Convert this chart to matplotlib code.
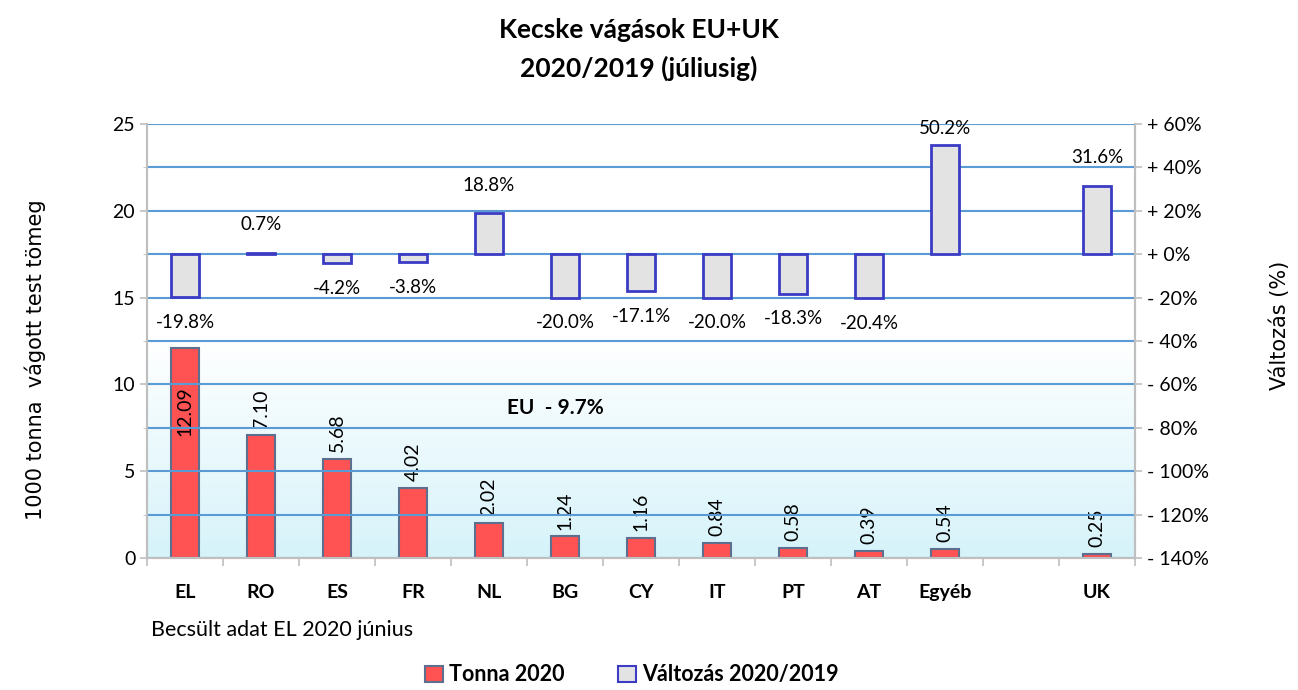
import numpy as np
import matplotlib
matplotlib.use("Agg")
import matplotlib.pyplot as plt
from matplotlib.patches import Patch
from matplotlib.colors import LinearSegmentedColormap

categories = ["EL", "RO", "ES", "FR", "NL", "BG", "CY", "IT", "PT", "AT", "Egyéb", "", "UK"]
tonna_2020 = [12.09, 7.10, 5.68, 4.02, 2.02, 1.24, 1.16, 0.84, 0.58, 0.39, 0.54, np.nan, 0.25]
valtozas = [-19.8, 0.7, -4.2, -3.8, 18.8, -20.0, -17.1, -20.0, -18.3, -20.4, 50.2, np.nan, 31.6]
right_ticks = [-140, -120, -100, -80, -60, -40, -20, 0, 20, 40, 60]
left_ticks = [0, 5, 10, 15, 20, 25]

plt.rcParams['font.family'] = ['Lato', 'DejaVu Sans']

fig = plt.figure(figsize=(12.98, 6.90), dpi=100)
ax = fig.add_axes([0.1133, 0.1913, 0.7611, 0.629])
ax2 = ax.twinx()

x = np.arange(len(categories))
ax.set_xlim(-0.5, len(categories) - 0.5)
ax.set_ylim(0, 25)
ax2.set_ylim(-140, 60)

# background gradient
grad = np.linspace(0, 1, 256).reshape(-1, 1)
cmap = LinearSegmentedColormap.from_list("bg", [(0, "#d6f3fa"), (0.5, "#ffffff"), (1, "#ffffff")])
ax.imshow(grad, aspect="auto", cmap=cmap, origin="lower",
          extent=[-0.5, len(categories) - 0.5, 0, 25], zorder=0)

# gridlines
for t in right_ticks:
    ax2.axhline(t, color="#5b9bd5", lw=1.5, zorder=1)

w = 0.38
ax.bar(x, tonna_2020, width=w, color="#ff5252", edgecolor="#5d6f8f", lw=1.5, zorder=3)
ax2.bar(x, valtozas, width=w, color="#e3e3e3", edgecolor="#3b3bc4", lw=2, zorder=3)

# data labels tonnes
for i, v in enumerate(tonna_2020):
    if np.isnan(v):
        continue
    if v > 10:
        ax.text(x[i], v - 2.2, f"{v:.2f}", rotation=90, ha="center", va="top", fontsize=14, zorder=5)
    else:
        ax.text(x[i], v + 0.4, f"{v:.2f}", rotation=90, ha="center", va="bottom", fontsize=14, zorder=5)

for i, v in enumerate(valtozas):
    if np.isnan(v):
        continue
    if v >= 0:
        ax2.text(x[i], min(v + 13, 58), f"{v:.1f}%", ha="center", va="center", fontsize=13.5, zorder=5)
    else:
        ax2.text(x[i], v - 11.5, f"{v:.1f}%", ha="center", va="center", fontsize=13.5, zorder=5)

ax.text(4.87, 8.64, "EU  - 9.7%", ha="center", va="center", fontsize=15, fontweight="bold", zorder=5)

# axes styling
ax.set_xticks(x)
ax.set_xticklabels(categories, fontweight="bold", fontsize=14)
ax.tick_params(axis="x", length=0, pad=19)
ax.set_xticks(np.arange(-0.5, len(categories) + 0.5, 1), minor=True)
ax.tick_params(axis="x", which="minor", length=6, color="#bfbfbf", width=1.2)
ax.set_yticks(left_ticks)
ax.set_yticks(np.arange(0, 25.1, 2.5), minor=True)
ax.tick_params(axis="y", labelsize=14, length=5, color="#bfbfbf", width=1.2)
ax.tick_params(axis="y", which="minor", length=3, color="#bfbfbf")
ax2.set_yticks(right_ticks)
ax2.set_yticklabels([("+ " if t >= 0 else "- ") + f"{abs(t)}%" for t in right_ticks])
ax2.tick_params(axis="y", labelsize=14, length=5, color="#bfbfbf", width=1.2)

for a in (ax, ax2):
    a.spines["top"].set_visible(False)
    for s in ("left", "right", "bottom"):
        a.spines[s].set_color("#bfbfbf")
        a.spines[s].set_linewidth(1.5)

fig.text(35 / 1298, 1 - 360 / 690, "1000 tonna  vágott test tömeg", rotation=90, ha="center", va="center",
         fontsize=15, family="DejaVu Sans")
fig.text(1280 / 1298, 1 - 325 / 690, "Változás (%)", rotation=90, ha="center", va="center",
         fontsize=15, family="DejaVu Sans")

fig.text(0.492, 1 - 30 / 690, "Kecske vágások EU+UK", ha="center", va="center", fontsize=19, fontweight="bold")
fig.text(0.492, 1 - 68 / 690, "2020/2019 (júliusig)", ha="center", va="center", fontsize=19, fontweight="bold")
fig.text(0.116, 1 - 630 / 690, "Becsült adat EL 2020 június", ha="left", va="center", fontsize=15.5)

handles = [Patch(facecolor="#ff5252", edgecolor="#5d6f8f", lw=1.5),
           Patch(facecolor="#e3e3e3", edgecolor="#3b3bc4", lw=1.5)]
fig.legend(handles, ["Tonna 2020", "Változás 2020/2019"], loc="center", bbox_to_anchor=(0.487, 0.022),
           ncol=2, frameon=False, prop={"weight": "bold", "size": 15.5}, handlelength=0.8,
           handleheight=0.8, handletextpad=0.3, columnspacing=2.5)

fig.savefig("out.png", dpi=100)
